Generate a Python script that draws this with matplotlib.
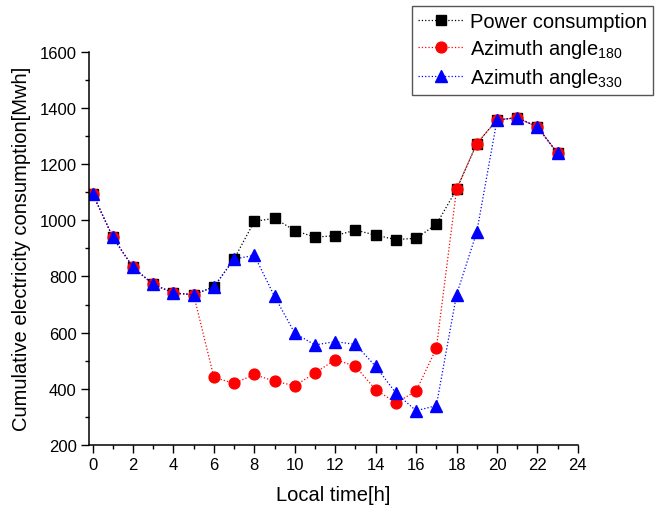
import matplotlib

matplotlib.use("Agg")
import matplotlib.pyplot as plt
from matplotlib.ticker import MultipleLocator

plt.rcParams.update({
    "font.family": ["Liberation Sans", "DejaVu Sans"],
    "mathtext.fontset": "custom",
    "mathtext.rm": "Liberation Sans",
    "mathtext.it": "Liberation Sans",
    "mathtext.default": "regular",
})

hours = list(range(24))
power = [1095, 940, 832, 772, 741, 735, 763, 862, 996, 1007, 963, 940, 945,
         965, 947, 931, 936, 985, 1110, 1273, 1357, 1365, 1332, 1238]
azimuth_180 = [1095, 940, 832, 772, 741, 735, 441, 419, 451, 427, 411, 456, 504,
               480, 397, 350, 392, 544, 1110, 1273, 1357, 1365, 1332, 1238]
azimuth_330 = [1095, 940, 832, 772, 741, 735, 763, 862, 875, 729, 598, 556, 568,
               558, 480, 385, 322, 340, 735, 958, 1357, 1365, 1332, 1238]

fig = plt.figure(figsize=(6.65, 5.1), dpi=100)
ax = fig.add_axes([0.134, 0.1255, 0.735, 0.7712])

ax.plot(hours, power, ls=":", lw=0.9, color="black", marker="s", ms=6.8,
        label="Power consumption")
ax.plot(hours, azimuth_180, ls=":", lw=0.9, color="red", marker="o", ms=7.8,
        label=r"Azimuth angle$_{180}$")
ax.plot(hours, azimuth_330, ls=":", lw=0.9, color="blue", marker="^", ms=8.8,
        label=r"Azimuth angle$_{330}$")

ax.set_xlim(-0.17, 24)
ax.set_ylim(200, 1600)
ax.xaxis.set_major_locator(MultipleLocator(2))
ax.xaxis.set_minor_locator(MultipleLocator(1))
ax.yaxis.set_major_locator(MultipleLocator(200))
ax.yaxis.set_minor_locator(MultipleLocator(100))

for side in ("top", "right"):
    ax.spines[side].set_visible(False)
for side in ("left", "bottom"):
    ax.spines[side].set_linewidth(1.1)

ax.tick_params(which="major", direction="out", length=5.5, width=1.0,
               labelsize=12, pad=3.5)
ax.tick_params(which="minor", direction="out", length=3, width=1.0)

ax.set_xlabel("Local time[h]", fontsize=14.5, labelpad=9)
ax.set_ylabel("Cumulative electricity consumption[Mwh]", fontsize=14.5, labelpad=6)

leg = ax.legend(loc="upper right", bbox_to_anchor=(0.982, 0.986),
                bbox_transform=fig.transFigure, fontsize=14.5, fancybox=False,
                edgecolor="#555555", framealpha=1, handlelength=2.3,
                handletextpad=0.3, labelspacing=0.3, borderpad=0.3,
                borderaxespad=0)
leg.get_frame().set_linewidth(1.0)

fig.savefig("out.png", dpi=100)
